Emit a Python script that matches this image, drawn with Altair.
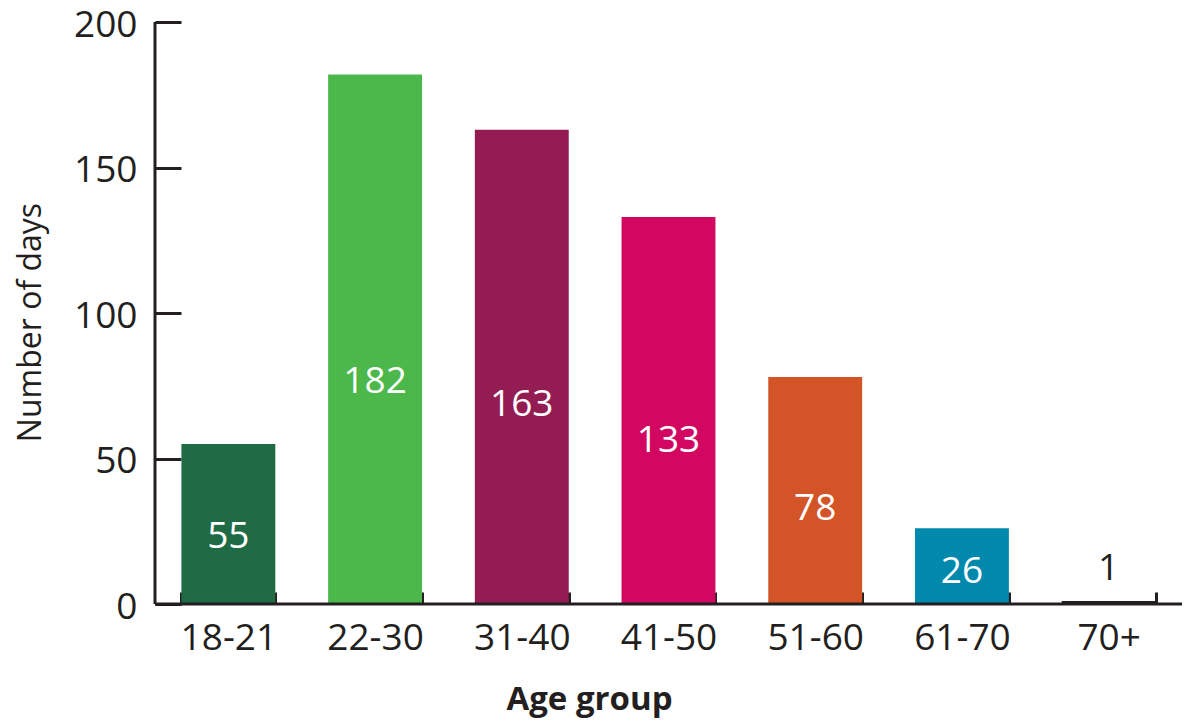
import altair as alt
import pandas as pd

categories = ["18-21", "22-30", "31-40", "41-50", "51-60", "61-70", "70+"]
days = [55, 182, 163, 133, 78, 26, 1]
colors = ["#1F6B45", "#4CB84C", "#931C52", "#D10761", "#D35427", "#0088AD", "#231F20"]
y_ticks = [0, 50, 100, 150, 200]

df = pd.DataFrame({"age": categories, "days": days, "color": colors})
one = pd.DataFrame({"k": [0]})

INK = "#231F20"
FONT = "Open Sans"
W, H = 1027, 582

xscale = alt.Scale(paddingInner=0.36, paddingOuter=0.18)
xaxis = alt.Axis(
    title="Age group", offset=-12, domain=False, tickBand="extent",
    tickSize=12, tickWidth=3, tickColor=INK,
    labelFont=FONT, labelFontSize=37, labelColor=INK, labelPadding=16, labelAngle=0,
    titleFont=FONT, titleFontSize=33, titleFontWeight="bold", titleColor=INK,
    titleX=434, titleY=117, titleBaseline="alphabetic", titleAlign="center",
    grid=False,
)
yscale = alt.Scale(domain=[0, 200], nice=False)
yaxis = alt.Axis(
    title="Number of days", values=y_ticks, offset=-26, domain=False,
    tickSize=26, tickWidth=3, tickColor=INK,
    labelFont=FONT, labelFontSize=37, labelColor=INK, labelPadding=18, labelOffset=3,
    titleFont=FONT, titleFontSize=32, titleFontWeight="normal", titleColor=INK,
    titleX=-141, titleY=300, titleBaseline="alphabetic", titleAlign="center",
    grid=False,
)

bars = alt.Chart(df).mark_bar().encode(
    x=alt.X("age:N", sort=categories, scale=xscale, axis=xaxis),
    y=alt.Y("days:Q", scale=yscale, axis=yaxis),
    color=alt.Color("color:N", scale=None),
)

text = alt.Chart(df).transform_calculate(
    ly="datum.days < 5 ? datum.days + 11 : datum.days * 0.42",
    lc=f"datum.days < 5 ? '{INK}' : '#FFFFFF'",
).mark_text(font=FONT, fontSize=37, baseline="middle").encode(
    x=alt.X("age:N", sort=categories, scale=xscale, axis=xaxis),
    y=alt.Y("ly:Q", scale=yscale, axis=yaxis),
    text="days:Q",
    color=alt.Color("lc:N", scale=None),
)

yline = alt.Chart(one).mark_rule(color=INK, strokeWidth=3).encode(
    x=alt.value(0), y=alt.value(0), y2=alt.value(H)
)
xline = alt.Chart(one).mark_rule(color=INK, strokeWidth=3).encode(
    x=alt.value(0), x2=alt.value(W), y=alt.value(H)
)

chart = alt.layer(bars, text, yline, xline).properties(
    width=W, height=H,
    padding={"left": 155, "top": 22, "right": 10, "bottom": 123},
    autosize=alt.AutoSizeParams(type="none"),
    background="white",
).configure_view(strokeWidth=0)

chart.save("out.html", embed_options={"renderer": "svg", "actions": False})
